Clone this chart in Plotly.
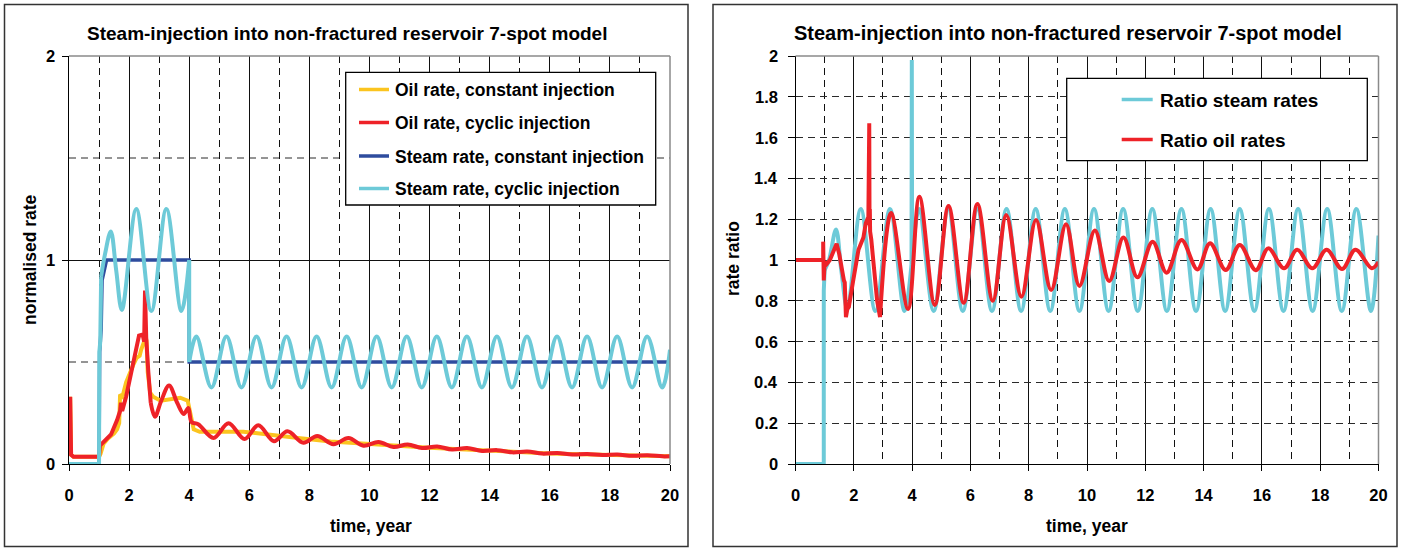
import plotly.graph_objects as go

W, H = 1401, 548

# ---------------- data: left chart (normalised rate) ----------------
x_tick_vals = [0, 2, 4, 6, 8, 10, 12, 14, 16, 18, 20]
left_y_ticks = [0, 1, 2]
left_y_minor_grid = [0.5, 1.5]
right_y_ticks = [0, 0.2, 0.4, 0.6, 0.8, 1, 1.2, 1.4, 1.6, 1.8, 2]

oil_const_t = [0.04, 0.07, 0.15, 1.0, 1.05, 1.15, 1.3, 1.5, 1.6, 1.67, 1.7, 1.78, 1.9, 2.0, 2.15,
               2.25, 2.35, 2.4, 2.5, 2.58, 2.62, 2.7, 2.8, 3.05, 3.4, 3.7, 3.95, 4.05, 4.15, 4.35,
               5.0, 5.8, 6.2, 6.7, 7.7, 8.7, 9.7, 10.8, 12, 13, 14, 15, 16, 17, 18, 19, 20]
oil_const_v = [0.33, 0.045, 0.035, 0.035, 0.05, 0.1, 0.125, 0.15, 0.17, 0.2, 0.34, 0.33, 0.4, 0.44, 0.49,
               0.52, 0.53, 0.56, 0.6, 0.6, 0.45, 0.35, 0.33, 0.31, 0.32, 0.325, 0.31, 0.25, 0.17, 0.158,
               0.16, 0.158, 0.152, 0.142, 0.126, 0.11, 0.1, 0.09, 0.08, 0.072, 0.064, 0.058, 0.052,
               0.048, 0.045, 0.041, 0.038]

oil_cyc_early_t = [0.04, 0.07, 0.15, 1.0, 1.03, 1.12, 1.25, 1.4, 1.6, 1.7, 1.73, 1.77, 1.9, 2.0,
                   2.15, 2.25, 2.33, 2.45, 2.5, 2.53, 2.57, 2.64, 2.72]
oil_cyc_early_v = [0.33, 0.045, 0.035, 0.035, 0.09, 0.105, 0.125, 0.145, 0.215, 0.26, 0.3, 0.26, 0.33,
                   0.4, 0.5, 0.575, 0.63, 0.635, 0.6, 0.85, 0.62, 0.45, 0.3]
oil_cyc_wave_t = [2.72, 2.86, 3.07, 3.33, 3.6, 3.82, 3.97, 4.08, 4.3, 4.81, 5.31, 5.84, 6.3, 6.82,
                  7.27, 7.8, 8.26, 8.8, 9.3, 9.8, 10.3, 10.8, 11.27, 11.75, 12.25, 12.75, 13.25,
                  13.75, 14.25, 14.75, 15.25, 15.75, 16.25, 16.75, 17.25, 17.75, 18.25, 18.75,
                  19.25, 19.75, 20.0]
oil_cyc_wave_v = [0.3, 0.232, 0.31, 0.385, 0.3, 0.245, 0.275, 0.205, 0.195, 0.128, 0.2, 0.122, 0.19,
                  0.112, 0.16, 0.104, 0.137, 0.097, 0.127, 0.09, 0.108, 0.083, 0.096, 0.078, 0.086,
                  0.071, 0.078, 0.064, 0.068, 0.057, 0.061, 0.051, 0.054, 0.047, 0.049, 0.044,
                  0.046, 0.040, 0.043, 0.0375, 0.038]

steam_const_t = [0, 1.0, 1.02, 1.07, 1.1, 1.25, 4.0, 4.0, 20]
steam_const_v = [0, 0, 0.55, 0.66, 0.9, 1.0, 1.0, 0.5, 0.5]

steam_cyc_start_t = [0, 1.0, 1.01, 1.04, 1.07]
steam_cyc_start_v = [0, 0, 0.55, 0.6, 0.92]
steam_cyc_pre_t = [1.07, 1.2, 1.39, 1.57, 1.76, 2.24, 2.74, 3.24, 3.74, 4.0]
steam_cyc_pre_v = [0.92, 1.03, 1.14, 0.95, 0.755, 1.25, 0.75, 1.25, 0.75, 1.0]
steam_cyc_drop_t = [4.0, 4.0]
steam_cyc_drop_v = [1.0, 0.5]
steam_cyc_wave_t = [4.0, 4.24, 4.74, 5.24, 5.74, 6.24, 6.74, 7.24, 7.74, 8.24, 8.74, 9.24, 9.74,
                    10.24, 10.74, 11.24, 11.74, 12.24, 12.74, 13.24, 13.74, 14.24, 14.74, 15.24,
                    15.74, 16.24, 16.74, 17.24, 17.74, 18.24, 18.74, 19.24, 19.74, 20.0]
steam_cyc_wave_v = [0.5, 0.625, 0.375, 0.625, 0.375, 0.625, 0.375, 0.625, 0.375, 0.625, 0.375,
                    0.625, 0.375, 0.625, 0.375, 0.625, 0.375, 0.625, 0.375, 0.625, 0.375, 0.625,
                    0.375, 0.625, 0.375, 0.625, 0.375, 0.625, 0.375, 0.625, 0.375, 0.625, 0.375,
                    0.56]

# ---------------- data: right chart (rate ratio) ----------------
ratio_steam_start_t = [0, 0.97, 0.97, 1.0]
ratio_steam_start_v = [0, 0, 0.85, 0.95]
ratio_steam_pre_t = [1.0, 1.15, 1.39, 1.57, 1.78, 2.24, 2.74, 3.24, 3.74, 3.98]
ratio_steam_pre_v = [0.95, 1.0, 1.15, 0.95, 0.76, 1.25, 0.75, 1.25, 0.75, 0.98]
ratio_steam_spike_t = [3.98, 3.99, 4.0]
ratio_steam_spike_v = [0.98, 1.98, 1.0]
ratio_steam_wave_t = steam_cyc_wave_t
ratio_steam_wave_v = [1.0, 1.25, 0.75, 1.25, 0.75, 1.25, 0.75, 1.25, 0.75, 1.25, 0.75, 1.25, 0.75,
                      1.25, 0.75, 1.25, 0.75, 1.25, 0.75, 1.25, 0.75, 1.25, 0.75, 1.25, 0.75, 1.25,
                      0.75, 1.25, 0.75, 1.25, 0.75, 1.25, 0.75, 1.12]

ratio_oil_early_t = [0, 0.95, 0.95, 0.97, 1.0, 1.07, 1.18, 1.3, 1.41, 1.5, 1.58, 1.66, 1.69, 1.73,
                     1.78, 1.83, 1.98, 2.16, 2.33, 2.41, 2.5, 2.53, 2.54, 2.55, 2.56, 2.6, 2.7, 2.8, 2.9]
ratio_oil_early_v = [1, 1, 1.09, 0.9, 0.99, 0.98, 1.0, 1.04, 1.08, 1.03, 0.95, 0.9, 0.89, 0.72,
                     0.76, 0.77, 0.9, 1.05, 1.11, 1.18, 1.21, 1.67, 1.17, 1.25, 1.14, 1.1, 0.95, 0.8, 0.72]
ratio_oil_wave_t = [2.9, 3.28, 3.86, 4.25, 4.78, 5.25, 5.77, 6.24, 6.77, 7.23, 7.75, 8.25, 8.77, 9.28,
                    9.74, 10.27, 10.76, 11.25, 11.73, 12.25, 12.73, 13.24, 13.79, 14.22, 14.76,
                    15.24, 15.79, 16.22, 16.76, 17.21, 17.73, 18.22, 18.75, 19.21, 19.77, 20.0]
ratio_oil_wave_v = [0.72, 1.23, 0.76, 1.31, 0.78, 1.265, 0.79, 1.275, 0.8, 1.22, 0.82, 1.196, 0.853,
                    1.175, 0.873, 1.144, 0.897, 1.11, 0.915, 1.09, 0.938, 1.098, 0.954, 1.082, 0.951,
                    1.074, 0.95, 1.057, 0.959, 1.05, 0.959, 1.05, 0.956, 1.05, 0.96, 0.99]

# ---------------- styling ----------------
C_YEL = "#FBC41F"
C_RED = "#EE2228"
C_BLUE = "#2E4C9E"
C_CYAN = "#6DCAD8"
FONT = "Liberation Sans, Arial, sans-serif"
LW = 4


def X(px):
    return px / W


def Y(py):
    return 1 - py / H


LX0, LX1 = 69, 670
RX0, RX1 = 795.5, 1378.5
PT, PB = 56, 464

fig = go.Figure()


def add(t, v, color, xa, ya, shape="linear", width=LW):
    fig.add_trace(go.Scatter(x=t, y=v, mode="lines", xaxis=xa, yaxis=ya, showlegend=False,
                             hoverinfo="skip",
                             line=dict(color=color, width=width, shape=shape)))


# left chart traces
add(oil_const_t, oil_const_v, C_YEL, "x", "y")
add(oil_cyc_early_t, oil_cyc_early_v, C_RED, "x", "y")
add(oil_cyc_wave_t, oil_cyc_wave_v, C_RED, "x", "y", "spline")
add(steam_const_t, steam_const_v, C_BLUE, "x", "y", width=3.5)
add(steam_cyc_start_t, steam_cyc_start_v, C_CYAN, "x", "y")
add(steam_cyc_pre_t, steam_cyc_pre_v, C_CYAN, "x", "y", "spline")
add(steam_cyc_drop_t, steam_cyc_drop_v, C_CYAN, "x", "y")
add(steam_cyc_wave_t, steam_cyc_wave_v, C_CYAN, "x", "y", "spline")

# right chart traces
add(ratio_steam_start_t, ratio_steam_start_v, C_CYAN, "x2", "y2")
add(ratio_steam_pre_t, ratio_steam_pre_v, C_CYAN, "x2", "y2", "spline")
add(ratio_steam_spike_t, ratio_steam_spike_v, C_CYAN, "x2", "y2")
add(ratio_steam_wave_t, ratio_steam_wave_v, C_CYAN, "x2", "y2", "spline")
add(ratio_oil_early_t, ratio_oil_early_v, C_RED, "x2", "y2")
add(ratio_oil_wave_t, ratio_oil_wave_v, C_RED, "x2", "y2", "spline")

DASH = "7px,5px"
TICK_SIZE = 16.5
tickfont = dict(family=FONT, size=TICK_SIZE, color="#000", weight=700)

xcommon = dict(range=[0, 20], tickvals=x_tick_vals, ticks="outside", ticklen=6, tickcolor="#000",
               showline=True, linecolor="#000", linewidth=1, showgrid=True, gridcolor="#111",
               gridwidth=1, zeroline=False, tickfont=tickfont, ticklabelstandoff=10,
               automargin=False,
               minor=dict(dtick=1, tick0=0, showgrid=True, gridcolor="#111", gridwidth=1,
                          griddash=DASH, ticks=""),
               fixedrange=True)

fig.update_layout(
    width=W, height=H, margin=dict(l=0, r=0, t=0, b=0, autoexpand=False),
    paper_bgcolor="white", plot_bgcolor="rgba(0,0,0,0)",
    xaxis=dict(domain=[X(LX0), X(LX1)], anchor="y", **xcommon),
    xaxis2=dict(domain=[X(RX0), X(RX1)], anchor="y2", **xcommon),
    yaxis=dict(domain=[Y(PB), Y(PT)], anchor="x", range=[0, 2], tickvals=left_y_ticks,
               ticks="outside", ticklen=6, tickcolor="#000", showline=True, linecolor="#000",
               linewidth=1, showgrid=True, gridcolor="#111", gridwidth=1, zeroline=False,
               showticklabels=False, automargin=False, fixedrange=True),
    yaxis2=dict(domain=[Y(PB), Y(PT)], anchor="x2", range=[0, 2], tickvals=right_y_ticks,
                ticks="outside", ticklen=7, tickcolor="#000", showline=True, linecolor="#000",
                linewidth=1, showgrid=True, gridcolor="#2a2a2a", gridwidth=1, griddash=DASH,
                zeroline=False, showticklabels=False, automargin=False, fixedrange=True),
)

shapes = []
# dashed minor horizontal grid of the left chart
for gv in left_y_minor_grid:
    shapes.append(dict(type="line", xref="x", yref="y", x0=0, x1=20, y0=gv, y1=gv, layer="below",
                       line=dict(color="#2a2a2a", width=1, dash=DASH)))
# outer frames
for x0, x1 in [(4.5, 688), (713, 1397)]:
    shapes.append(dict(type="rect", xref="paper", yref="paper", x0=X(x0), x1=X(x1),
                       y0=Y(546.5), y1=Y(4.5), line=dict(color="#333", width=1.5)))
# gray plot-area borders (top and right)
for xa, xb in [(LX0, LX1), (RX0, RX1)]:
    shapes.append(dict(type="line", xref="paper", yref="paper", x0=X(xa), x1=X(xb),
                       y0=Y(PT), y1=Y(PT), line=dict(color="#8a8a8a", width=1.5)))
    shapes.append(dict(type="line", xref="paper", yref="paper", x0=X(xb), x1=X(xb),
                       y0=Y(PT), y1=Y(PB), line=dict(color="#8a8a8a", width=1.5)))

annotations = []


def text(s, px, py, size, xanchor="center", angle=0):
    annotations.append(dict(text=s, xref="paper", yref="paper", x=X(px), y=Y(py),
                            xanchor=xanchor, yanchor="middle", showarrow=False, textangle=angle,
                            font=dict(family=FONT, size=size, color="#000", weight=700)))


# y tick labels (placed beside the outside ticks, as in the source)
for v in left_y_ticks:
    annotations.append(dict(text="%g" % v, xref="paper", yref="y", x=X(57), y=v, xanchor="right",
                            yanchor="middle", showarrow=False,
                            font=dict(family=FONT, size=TICK_SIZE, color="#000", weight=700)))
for v in right_y_ticks:
    annotations.append(dict(text="%g" % v, xref="paper", yref="y2", x=X(780), y=v, xanchor="right",
                            yanchor="middle", showarrow=False,
                            font=dict(family=FONT, size=TICK_SIZE, color="#000", weight=700)))

# legends (drawn boxes)
legend_left = [("Oil rate, constant injection", C_YEL, 89.5),
               ("Oil rate, cyclic injection", C_RED, 122.5),
               ("Steam rate, constant injection", C_BLUE, 156),
               ("Steam rate, cyclic injection", C_CYAN, 188.5)]
legend_right = [("Ratio steam rates", C_CYAN, 99.5),
                ("Ratio oil rates", C_RED, 139.5)]

shapes.append(dict(type="rect", xref="paper", yref="paper", x0=X(345.7), x1=X(655.7),
                   y0=Y(205), y1=Y(72.3), fillcolor="white", line=dict(color="#000", width=1.3)))
shapes.append(dict(type="rect", xref="paper", yref="paper", x0=X(1066.7), x1=X(1367.3),
                   y0=Y(160.7), y1=Y(78.3), fillcolor="white", line=dict(color="#000", width=1.3)))
for name, col, py in legend_left:
    shapes.append(dict(type="line", xref="paper", yref="paper", x0=X(359), x1=X(389),
                       y0=Y(py), y1=Y(py), line=dict(color=col, width=3.5)))
    text(name, 393, py + 0.5, 17.5, xanchor="left")
for name, col, py in legend_right:
    shapes.append(dict(type="line", xref="paper", yref="paper", x0=X(1121.7), x1=X(1152.7),
                       y0=Y(py), y1=Y(py), line=dict(color=col, width=3.5)))
    text(name, 1158, py + 0.5, 19, xanchor="left")

# titles and axis titles
TITLE = "Steam-injection into non-fractured reservoir 7-spot model"
text(TITLE, 346.5, 33, 19)
text(TITLE, 1068, 33, 20)
text("time, year", 370.5, 526, 17.5)
text("time, year", 1086.5, 526, 17.5)
text("normalised rate", 30, 260, 17.5, angle=-90)
text("rate ratio", 733, 259, 17.5, angle=-90)

fig.update_layout(shapes=shapes, annotations=annotations)
fig.write_html("out.html", config={"displayModeBar": False})
